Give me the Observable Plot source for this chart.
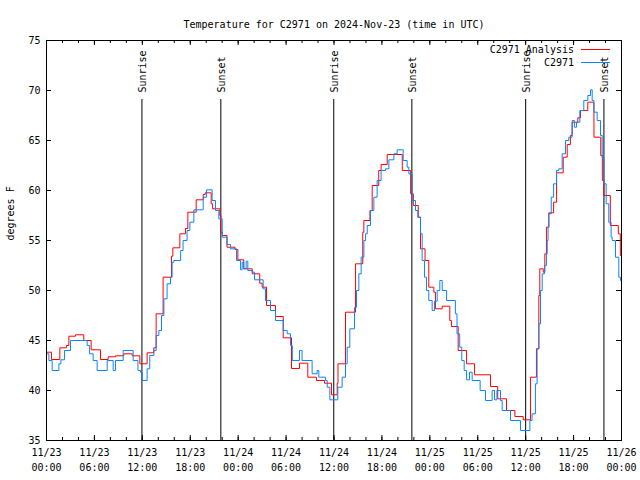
<!DOCTYPE html>
<html><head><meta charset="utf-8">
<script src="https://cdn.jsdelivr.net/npm/d3@7"></script>
<script src="https://cdn.jsdelivr.net/npm/@observablehq/plot@0.6"></script>
<style>body{margin:0;background:#fff}</style>
</head><body><div id="chart"></div>
<script>
// hours since 2024-11-23 00:00 UTC, and temperature (°F)
const analysisHours = [0,0.62,1.67,2.5,2.8,3.63,4.67,5.59,6.76,7.72,8.64,9.68,10.73,11.69,12.6,13.44,13.73,14.6,15.65,15.82,16.7,17.4,17.7,18.74,19.62,19.87,20.62,20.8,21.7,21.83,22.0,22.6,23.6,23.96,24.7,25.76,26.7,27.0,27.55,28.68,29.64,30.68,31.68,32.72,33.8,34.81,35.69,36.4,36.5,37.44,38.7,39.6,39.74,40.5,40.78,41.6,41.9,42.66,44.55,45.6,45.93,46.55,46.83,47.4,47.87,48.5,48.7,49.55,50.5,50.7,51.55,52.6,53.6,55.6,56.5,57.6,58.65,59.69,60.6,61.35,61.65,61.77,62.2,62.4,62.6,62.9,63.5,63.87,64.7,65.2,65.6,65.82,66.53,66.86,67.78,68.55,69.4,69.6,69.8,70.6,71.6,71.85,72];
const analysisTemps = [43.83,43.1,44.27,44.5,45.43,45.57,45.0,44.07,43.1,43.37,43.47,43.67,43.47,42.67,43.77,44.27,47.67,51.33,53.43,54.27,55.67,56.2,57.83,59.07,59.6,59.77,58.67,58.17,57.5,55.83,55.5,54.33,54.1,53.07,52.17,51.67,50.73,50.33,48.5,47.4,45.27,42.2,42.73,41.33,41.0,40.73,39.57,40.7,42.67,47.83,52.67,55.83,57,58,60.5,62,62.6,63.6,62,59.67,58.5,57.33,54.17,53.0,50.33,49.83,48.17,48.43,47,46.4,44,42.67,41.57,40.4,39.17,38,37.4,37.07,41.33,44.17,49.5,52.17,51.83,53.67,56.33,57.77,58.83,61.77,63.33,64.6,65.5,66.83,67.27,68,68.83,65.33,63.5,61,59.5,56.5,55.67,53.5,53.5];

const obsHours = [0,0.3,0.71,1.55,1.8,2.26,3.0,5.09,5.4,5.84,6.34,7.6,8.35,8.64,9.6,10.85,11.45,11.77,11.98,12.6,12.93,13.44,13.73,14.07,14.4,14.7,15.1,15.53,15.73,15.94,16.8,17.1,17.6,17.95,18.45,19.62,20.04,20.74,21.16,21.58,22.0,22.6,23.04,23.79,24.3,24.5,24.7,25.0,25.21,25.76,26.05,27.13,27.42,28.05,28.68,29.64,30.14,30.55,30.78,31.68,32.0,33.26,33.89,34.1,34.94,35.15,35.48,36.48,37.02,37.44,37.65,37.98,38.57,38.82,39.11,39.4,39.74,39.95,40.16,40.57,40.99,41.4,41.9,42.45,42.87,43.5,43.91,44.66,45.16,45.37,45.79,46.2,46.5,46.83,47.04,47.33,47.58,47.87,48.29,48.58,48.92,49.25,49.55,50.1,51.2,51.4,51.74,52.0,52.3,52.6,52.97,53.3,54.3,54.97,55.8,56.1,56.4,56.85,57.06,58.1,59.35,60.53,60.8,61.22,61.43,61.65,61.86,62.07,62.36,62.6,62.7,62.8,62.9,63.2,63.5,63.87,64.15,64.57,64.99,65.4,65.82,66.1,66.37,66.78,67.28,67.78,68.12,68.33,68.54,68.95,69.37,69.58,69.79,70.08,70.41,70.7,70.83,71.25,71.66,71.87,72];
const obsTemps = [43.67,43.0,42.0,42.67,43.07,44.0,45.0,44.5,43.67,43.0,42.0,43.0,42.0,43.0,44.0,43.0,42.0,41.83,41.0,42.17,43.5,44.0,45.5,46.0,47.5,49.17,50.67,51.33,52.83,53.0,54.0,55.0,56.0,56.83,58.07,59.33,60.07,59.0,58.0,57.17,55.33,54.6,54.17,53.0,52.07,52.83,52.17,52.93,52.0,51.83,51.07,50.17,49.0,48.0,47.0,46.0,45.67,44.5,43.0,44.0,43.0,41.67,42.0,41.33,41.0,40.33,39.07,40.33,41.33,42.67,44.33,46.17,48.33,50.0,51.67,53.33,55.0,55.67,56.5,58.0,59.33,61.0,62.0,62.17,63.07,63.67,64.07,63.0,62.33,61.67,59.0,58.0,57.33,55.67,53.0,51.33,50.0,49.0,48.0,48.93,50.0,51.0,50.0,49.0,47.67,45.67,44.33,43.0,42.0,41.07,41.83,41.0,40.0,39.0,40.0,39.07,40.0,39.0,38.0,37.0,36.0,37.0,37.67,40.67,44.17,46.67,50.0,51.67,52.5,53.67,55.0,56.33,57.67,59.33,60.67,62.0,62.17,63.67,65.0,65.33,67.0,66.33,66.83,68.0,69.0,69.5,70.07,69.0,67.83,67.0,65.5,63.33,60.67,58.67,56.83,55.33,55.0,53.33,51.33,51.0,50.8];

const sunHours = [11.95,21.83,35.97,45.75,60.0,69.8];
const sunLabels = ["Sunrise","Sunset","Sunrise","Sunset","Sunrise","Sunset"];

const yTicks = [35,40,45,50,55,60,65,70,75];
const seriesNames = ["C2971 Analysis","C2971"];
const seriesColors = ["#ff0000","#0b84ff"];
const titleText = "Temperature for C2971 on 2024-Nov-23 (time in UTC)";
const yLabel = "degrees F";

const base = Date.UTC(2024,10,23);
const toDate = h => new Date(base + h*3600e3);
const start = toDate(0), end = toDate(72);
const analysis = analysisHours.map((h,i)=>({t:toDate(h), v:analysisTemps[i]}));
const obs = obsHours.map((h,i)=>({t:toDate(h), v:obsTemps[i]}));
const sun = sunHours.map((h,i)=>({t:toDate(h), label:sunLabels[i]}));
const majorTicks = d3.utcHour.every(6).range(start, toDate(72.01));
const minorTicks = d3.utcHour.every(2).range(start, toDate(72.01));
const fmt = d3.utcFormat("%m/%d\n%H:%M");
const font = "DejaVu Sans Mono";

const chart = Plot.plot({
  width: 640, height: 480,
  marginTop: 40, marginBottom: 40, marginLeft: 46, marginRight: 19,
  style: {fontFamily: font, fontSize: "10px", background: "#fff", color: "#000", overflow: "visible"},
  x: {type: "utc", domain: [start, end]},
  y: {domain: [35, 75]},
  marks: [
    Plot.tickX(minorTicks, {x: d => d, insetTop: 397, stroke: "#000"}),
    Plot.tickX(minorTicks, {x: d => d, insetBottom: 397, stroke: "#000"}),
    Plot.tickX(majorTicks, {x: d => d, insetTop: 395, stroke: "#000"}),
    Plot.tickX(majorTicks, {x: d => d, insetBottom: 395, stroke: "#000"}),
    Plot.tickY(yTicks, {y: d => d, insetLeft: 570, stroke: "#000"}),
    Plot.tickY(yTicks, {y: d => d, insetRight: 570, stroke: "#000"}),
    Plot.ruleX(sun, {x: "t", y1: 35, y2: 69.1, stroke: "#000"}),
    Plot.text(sun, {x: "t", y: 69.8, text: "label", rotate: -90, textAnchor: "start", dx: 1, fill: "#000"}),
    Plot.line(analysis, {x: "t", y: "v", curve: "step-after", stroke: seriesColors[0], strokeWidth: 1}),
    Plot.line(obs, {x: "t", y: "v", curve: "step-after", stroke: seriesColors[1], strokeWidth: 1}),
    Plot.frame({stroke: "#000"}),
    Plot.axisX(majorTicks, {tickSize: 0, tickPadding: 5, tickFormat: fmt, lineHeight: 1.5, label: null, fill: "#000"}),
    Plot.axisY(yTicks, {tickSize: 0, tickPadding: 6, label: null, fill: "#000"}),
    Plot.text([titleText], {frameAnchor: "top", dy: -20, fill: "#000"}),
    Plot.text([yLabel], {frameAnchor: "left", dx: -36, rotate: -90, fill: "#000"})
  ]
});
document.getElementById("chart").appendChild(chart);

// legend (top-right, inside plot)
const svg = d3.select(chart);
const lg = svg.append("g").attr("font-family", font).attr("font-size", 10);
seriesNames.forEach((name, i) => {
  const y = 49.5 + i * 13;
  lg.append("text").attr("x", 574).attr("y", y).attr("dy", "0.32em")
    .attr("text-anchor", "end").attr("fill", "#000").text(name);
  lg.append("line").attr("x1", 581).attr("x2", 610).attr("y1", y).attr("y2", y)
    .attr("stroke", seriesColors[i]).attr("stroke-width", 1);
});
</script>
</body></html>
